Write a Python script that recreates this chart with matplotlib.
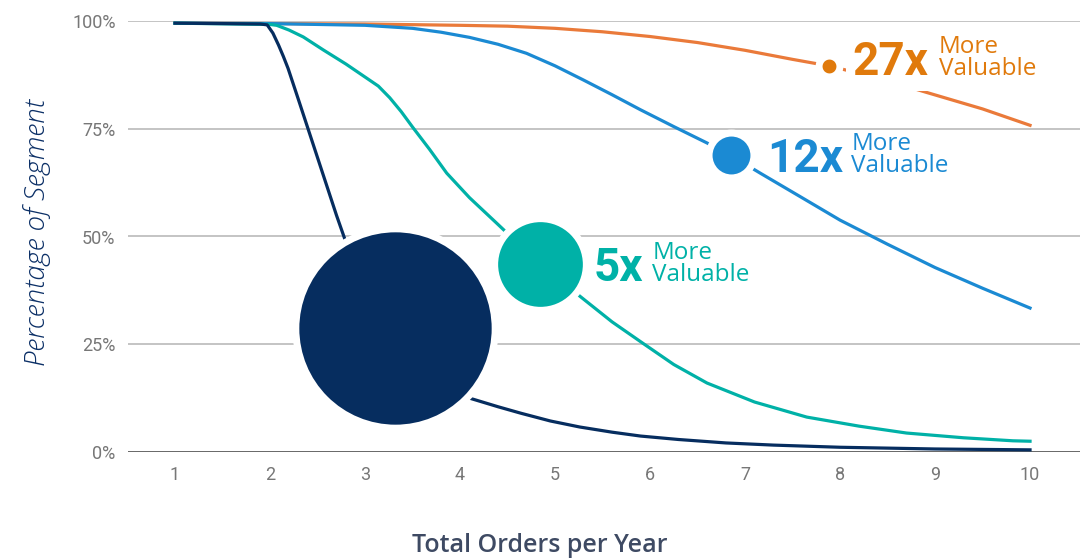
import matplotlib
matplotlib.use("Agg")
import matplotlib.pyplot as plt

# data (percent of segment vs orders per year)
navy_x = [1, 1.5, 1.9, 1.97, 2.03, 2.09, 2.14, 2.19, 2.3, 2.4, 2.5, 2.6, 2.7,
          3.0, 3.32, 3.7, 4.1, 4.4, 4.64, 4.95, 5.26, 5.6, 5.9, 6.3, 6.8, 7.3, 8, 9, 10]
navy_y = [99.5, 99.4, 99.3, 99.1, 97.2, 94.4, 91.8, 89.0, 81.7, 75.0, 68.3, 61.6, 54.9,
          36, 28.8, 19, 12.5, 10.5, 9.0, 7.2, 5.8, 4.6, 3.7, 2.9, 2.1, 1.6, 1.1,
          0.7, 0.5]

teal_x = [1, 2, 2.07, 2.2, 2.35, 2.56, 2.8, 3.02, 3.14, 3.26, 3.38, 3.5, 3.68, 3.86,
          4.1, 4.39, 4.84, 5.27, 5.6, 5.92, 6.25, 6.6, 7.1, 7.65, 8.2, 8.7, 9.3,
          9.82, 10]
teal_y = [99.5, 99.2, 99, 97.9, 96.3, 93.3, 90.0, 86.7, 84.9, 82.2, 79.0, 75.4, 70.2,
          64.7, 59, 53, 43.6, 36, 30.2, 25.3, 20.3, 16, 11.6, 8.1, 6.0, 4.4, 3.3,
          2.6, 2.5]

blue_x = [1, 2, 3, 3.5, 3.8, 4.1, 4.4, 4.7, 5.0, 5.3, 5.6, 5.9, 6.25, 6.6, 6.85,
          7.16, 7.6, 8, 8.5, 9, 9.5, 10]
blue_y = [99.5, 99.4, 99.0, 98.3, 97.4, 96.2, 94.6, 92.5, 89.6, 86.3, 82.9, 79.4,
          75.5, 71.7, 68.8, 64.7, 59, 53.8, 48.2, 42.8, 38.0, 33.4]

orange_x = [1, 3, 4, 4.5, 5.0, 5.5, 6.0, 6.5, 7.0, 7.5, 7.88, 8.4, 8.9, 9.5, 10]
orange_y = [99.5, 99.3, 99.0, 98.8, 98.3, 97.5, 96.4, 95.0, 93.2, 91.1, 89.6, 86.8,
            83.5, 79.6, 75.8]

# highlighted points and their labels
marker_x = [3.32, 4.84, 6.85, 7.88]
marker_y = [28.8, 43.6, 68.8, 89.6]
multipliers = ["", "5x", "12x", "27x"]

x_ticks = list(range(1, 11))
y_ticks = [0, 25, 50, 75, 100]
y_ticklabels = ["0%", "25%", "50%", "75%", "100%"]

NAVY = "#062d5f"
TEAL = "#00b1a7"
BLUE = "#1b8ad3"
ORANGE_LINE = "#ea7a3a"
ORANGE = "#e07a0c"

fig = plt.figure(figsize=(10.91, 5.6), dpi=100)
ax = fig.add_axes([128 / 1091, 1 - 452 / 560, 952 / 1091, 431 / 560])

ax.set_xlim(0.505, 10.526)
ax.set_ylim(0, 100)

for y in y_ticks[1:]:
    ax.axhline(y, color="#c4c4c4", lw=1.4, zorder=1)
ax.axhline(0, color="#3a3a3a", lw=1.8, zorder=1)

lw = 2.3
ax.plot(orange_x, orange_y, color=ORANGE_LINE, lw=lw, zorder=3, clip_on=False)
ax.plot(blue_x, blue_y, color=BLUE, lw=lw, zorder=3, clip_on=False)
ax.plot(teal_x, teal_y, color=TEAL, lw=lw, zorder=3, clip_on=False)
ax.plot(navy_x, navy_y, color=NAVY, lw=lw, zorder=3, clip_on=False)

# circles: size in points, white halo
sizes = [143.5, 66, 32.3, 15]
colors = [NAVY, TEAL, BLUE, ORANGE]
big_dx = [0, 53.5, 36.5, 24]
big_dy = [0, -17, -16.5, -9]
small_dx = [0, 112.5, 120.5, 110]

for i in range(len(marker_x)):
    ax.plot(marker_x[i], marker_y[i], "o", ms=sizes[i], color=colors[i],
            mec="white", mew=5, zorder=6, clip_on=False)
    if not multipliers[i]:
        continue
    # only the top label sits on its own line, so only it needs a white box
    box = None
    if multipliers[i] == "27x":
        box = dict(boxstyle="square,pad=0.15", fc="white", ec="none")
    ax.annotate(multipliers[i], (marker_x[i], marker_y[i]),
                xytext=(big_dx[i], big_dy[i]), textcoords="offset pixels",
                ha="left", va="baseline", fontsize=33, fontweight="bold",
                family="Roboto", color=colors[i], zorder=5, bbox=box)
    ax.annotate("More\nValuable", (marker_x[i], marker_y[i]),
                xytext=(small_dx[i], big_dy[i]), textcoords="offset pixels",
                ha="left", va="baseline", fontsize=17.5, fontweight="medium",
                family="Open Sans", color=colors[i], zorder=5,
                linespacing=0.9)

for s in ax.spines.values():
    s.set_visible(False)

ax.set_xticks(x_ticks)
ax.set_yticks(y_ticks)
ax.set_yticklabels(y_ticklabels)
ax.tick_params(length=0, colors="#777777", labelsize=13)
ax.tick_params(axis="y", pad=9)
ax.tick_params(axis="x", pad=10)
for lab in ax.get_xticklabels() + ax.get_yticklabels():
    lab.set_family("Roboto")

fig.text(540 / 1091, 1 - 545 / 560, "Total Orders per Year", ha="center",
         va="center", fontsize=18, fontweight="semibold", family="Open Sans",
         color="#3e4a63")
fig.text(37 / 1091, 1 - 232 / 560, "Percentage of Segment", ha="center",
         va="center", rotation=90, fontsize=20, style="italic", fontweight="light",
         family="Open Sans", color="#0b2f66")

fig.savefig("out.png", dpi=100)
